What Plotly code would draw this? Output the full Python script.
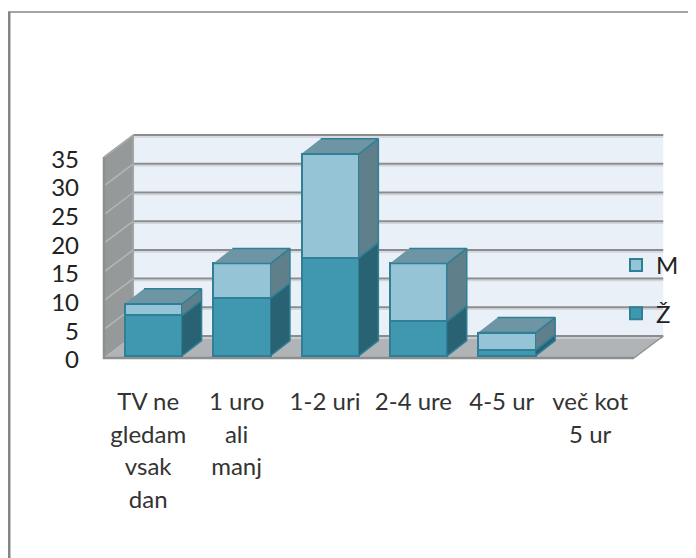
import plotly.graph_objects as go

categories = ["TV ne<br>gledam<br>vsak<br>dan", "1 uro<br>ali<br>manj", "1-2 uri", "2-4 ure", "4-5 ur", "več kot<br>5 ur"]
zenske = [7, 10, 17, 6, 1, 0]
moski = [2, 6, 18, 10, 3, 0]
y_ticks = [0, 5, 10, 15, 20, 25, 30, 35]

# the page sits 8px in from the window edge
PAGE = 8
W, H = 696 - PAGE, 558 - PAGE
L, R, T, B = 90 - PAGE, 668 - PAGE, 130 - PAGE, 362 - PAGE
PW, PH = R - L, B - T
PITCH = 88.4
UNIT_WALL = 5.74
UNIT_BAR = 5.77
FONT = "Lato, 'Noto Sans', sans-serif"

WALL_X0, WALL_Y0 = 148.2 - PAGE, 358.0 - PAGE
BAR_X0, BAR_Y0 = 153.5 - PAGE, 355.7 - PAGE
x_main = [(L - WALL_X0) / PITCH, (R - WALL_X0) / PITCH]
y_main = [(WALL_Y0 - B) / UNIT_WALL, (WALL_Y0 - T) / UNIT_WALL]
x_bar = [(L - BAR_X0) / PITCH, (R - BAR_X0) / PITCH]
y_bar = [(BAR_Y0 - B) / UNIT_BAR, (BAR_Y0 - T) / UNIT_BAR]

# projected depth offsets in axis units
WALL_DX, WALL_DY = 29.3 / PITCH, 22 / UNIT_WALL
BAR_DX, BAR_DY = 19.3 / PITCH, 15 / UNIT_BAR
BAR_W = 57.5 / PITCH
X_LO, X_HI = -0.5, 5.495
Y_MAX = y_ticks[-1]

BORDER = "#2F7F97"
fig = go.Figure()


def poly(xs, ys, fill, line, width=1.5, xaxis="x", yaxis="y"):
    fig.add_trace(go.Scatter(x=xs, y=ys, mode="lines", fill="toself", fillcolor=fill,
                             line=dict(color=line, width=width), xaxis=xaxis, yaxis=yaxis,
                             showlegend=False, hoverinfo="skip"))


def lines(xs, ys, color, width):
    fig.add_trace(go.Scatter(x=xs, y=ys, mode="lines", line=dict(color=color, width=width),
                             showlegend=False, hoverinfo="skip"))


# back wall, side wall, floor
poly([X_LO + WALL_DX, X_HI + WALL_DX, X_HI + WALL_DX, X_LO + WALL_DX],
     [WALL_DY, WALL_DY, Y_MAX + WALL_DY, Y_MAX + WALL_DY], "#E9F0F7", "rgba(0,0,0,0)", 0)
poly([X_LO, X_LO + WALL_DX, X_LO + WALL_DX, X_LO],
     [0, WALL_DY, Y_MAX + WALL_DY, Y_MAX], "#96999A", "rgba(0,0,0,0)", 0)
poly([X_LO, X_HI, X_HI + WALL_DX, X_LO + WALL_DX],
     [0, 0, WALL_DY, WALL_DY], "#B1B4B7", "rgba(0,0,0,0)", 0)

# gridlines
gx, gy, sx, sy, dx_, dy_ = [], [], [], [], [], []
for t in y_ticks:
    gx += [X_LO + WALL_DX, X_HI + WALL_DX, None]
    gy += [t + WALL_DY, t + WALL_DY, None]
    sx += [X_LO + WALL_DX, X_HI + WALL_DX, None]
    sy += [t + WALL_DY - 0.35, t + WALL_DY - 0.35, None]
    dx_ += [X_LO, X_LO + WALL_DX, None]
    dy_ += [t, t + WALL_DY, None]
lines(sx, sy, "#CFD5DA", 1.5)
lines(gx, gy, "#8C8C8C", 2)
lines(dx_, dy_, "#B4B7B7", 1.5)

# edges of the walls
lines([X_LO, X_LO, X_HI], [Y_MAX, 0, 0], "#8D8F8F", 2.5)
lines([X_LO, X_LO + WALL_DX, X_LO + WALL_DX], [Y_MAX, Y_MAX + WALL_DY, WALL_DY], "#A6A9A9", 1.5)
lines([X_HI, X_HI + WALL_DX], [0, WALL_DY], "#8F9191", 1.5)

# front faces
fig.add_trace(go.Bar(x=list(range(6)), y=zenske, name="Ž", width=BAR_W, xaxis="x2", yaxis="y2",
                     marker=dict(color="#4098B0", line=dict(color=BORDER, width=[2 if v > 0 else 0 for v in zenske])),
                     legendgroup="z", legendrank=2, hoverinfo="skip"))
fig.add_trace(go.Bar(x=list(range(6)), y=moski, name="M", width=BAR_W, xaxis="x2", yaxis="y2",
                     marker=dict(color="#95C4D6", line=dict(color=BORDER, width=[2 if v > 0 else 0 for v in moski])),
                     legendgroup="m", legendrank=1, hoverinfo="skip"))

# side and top faces of each bar, from the data
for i, (z, m) in enumerate(zip(zenske, moski)):
    x1 = i + BAR_W / 2
    x0 = i - BAR_W / 2
    if z > 0:
        poly([x1, x1 + BAR_DX, x1 + BAR_DX, x1], [0, BAR_DY, z + BAR_DY, z],
             "#286273", BORDER, 1.5, "x2", "y2")
    if m > 0:
        poly([x1, x1 + BAR_DX, x1 + BAR_DX, x1], [z, z + BAR_DY, z + m + BAR_DY, z + m],
             "#5F7F8B", BORDER, 1.5, "x2", "y2")
    if z + m > 0:
        poly([x0, x1, x1 + BAR_DX, x0 + BAR_DX],
             [z + m, z + m, z + m + BAR_DY, z + m + BAR_DY],
             "#6E95A3", BORDER, 1.5, "x2", "y2")


def spaced(label):
    return "<br>".join('<span style="font-size:24px">%s</span>' % p for p in label.split("<br>"))


fig.update_layout(
    width=W, height=H, autosize=False, paper_bgcolor="white", plot_bgcolor="rgba(0,0,0,0)",
    margin=dict(l=L, r=W - R, t=T, b=H - B, pad=0),
    barmode="stack", bargap=0.3,
    font=dict(family=FONT, color="#222222"),
    xaxis=dict(range=x_main, tickmode="array", tickvals=list(range(6)),
               ticktext=[spaced(c) for c in categories], tickangle=0, tickfont=dict(size=25, color="#333333"),
               showgrid=False, zeroline=False, showline=False, ticks="", ticklabelstandoff=22, fixedrange=True),
    yaxis=dict(range=y_main, tickmode="array", tickvals=y_ticks, tickfont=dict(size=24, color="#222222"),
               showgrid=False, zeroline=False, showline=False, ticks="", ticklabelstandoff=10,
               ticklabelshift=2, fixedrange=True),
    xaxis2=dict(range=x_bar, overlaying="x", anchor="y2", visible=False, fixedrange=True),
    yaxis2=dict(range=y_bar, overlaying="y", anchor="x2", visible=False, fixedrange=True),
    legend=dict(x=(616 - L - PAGE) / PW, y=1 - (243 - T - PAGE) / PH, xanchor="left", yanchor="top",
                traceorder="grouped", tracegroupgap=14, bgcolor="rgba(0,0,0,0)",
                font=dict(size=24, color="#222222")),
    shapes=[
        dict(type="line", xref="paper", yref="paper", x0=(1 - L) / PW, x1=(1 - L) / PW,
             y0=(B - 4) / PH, y1=(B - H) / PH, line=dict(color="#858585", width=3)),
        dict(type="line", xref="paper", yref="paper", x0=0 - L / PW, x1=(W - L) / PW,
             y0=(B - 4) / PH, y1=(B - 4) / PH, line=dict(color="#858585", width=1.5)),
    ],
)

fig.write_html("out.html")
